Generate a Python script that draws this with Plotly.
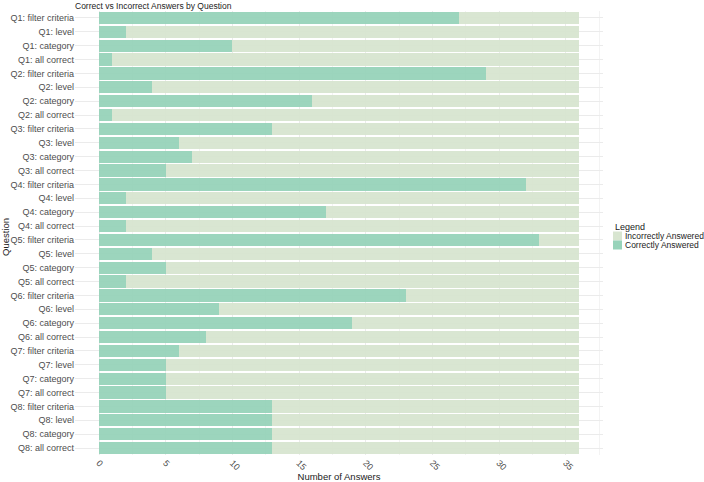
import plotly.graph_objects as go

questions = ["Q1", "Q2", "Q3", "Q4", "Q5", "Q6", "Q7", "Q8"]
aspects = ["filter criteria", "level", "category", "all correct"]
categories = [f"{q}: {a}" for q in questions for a in aspects]

correct = [27, 2, 10, 1,
           29, 4, 16, 1,
           13, 6, 7, 5,
           32, 2, 17, 2,
           33, 4, 5, 2,
           23, 9, 19, 8,
           6, 5, 5, 5,
           13, 13, 13, 13]
total_answers = 36
incorrect = [total_answers - c for c in correct]

x_ticks = [0, 5, 10, 15, 20, 25, 30, 35]
series_names = ["Incorrectly Answered", "Correctly Answered"]
series_colors = {"Correctly Answered": "#97d3ba", "Incorrectly Answered": "#d8e5d0"}

font_family = "Liberation Sans, Arial, sans-serif"
txt = "#4d4d4d"
dark = "#222222"

W, H = 704, 482
ml, mr, mt, mb = 75, 101, 11, 27

fig = go.Figure()
fig.add_trace(go.Bar(y=categories, x=correct, orientation="h", name="Correctly Answered",
                     marker=dict(color=series_colors["Correctly Answered"], line=dict(width=0)),
                     opacity=0.95))
fig.add_trace(go.Bar(y=categories, x=incorrect, orientation="h", name="Incorrectly Answered",
                     marker=dict(color=series_colors["Incorrectly Answered"], line=dict(width=0)),
                     opacity=0.95))

pw = W - ml - mr
ph = H - mt - mb
def px_x(p):
    return (p - ml) / pw
def px_y(p):
    return (H - mb - p) / ph

annotations = [dict(text="Legend", x=px_x(613), y=px_y(227), xref="paper", yref="paper",
                    xanchor="left", yanchor="middle", showarrow=False,
                    font=dict(size=9, color=dark)),
               dict(text="Question", x=px_x(5), y=px_y(237), xref="paper", yref="paper",
                    xanchor="center", yanchor="middle", showarrow=False, textangle=-90,
                    font=dict(size=9.5, color=dark))]
shapes = []
for i, name in enumerate(series_names):
    yc = 236 + i * 9
    shapes.append(dict(type="rect", xref="paper", yref="paper",
                       x0=px_x(613), x1=px_x(622), y0=px_y(yc - 4.5), y1=px_y(yc + 4.5),
                       fillcolor=series_colors[name], line=dict(width=0)))
    annotations.append(dict(text=name, x=px_x(623), y=px_y(yc), xref="paper", yref="paper",
                            xanchor="left", yanchor="middle", showarrow=False,
                            font=dict(size=8.5, color=dark)))

fig.update_layout(
    width=W, height=H,
    barmode="stack", bargap=0.12,
    plot_bgcolor="white", paper_bgcolor="white",
    margin=dict(l=ml, r=mr, t=mt, b=mb, autoexpand=False),
    font=dict(family=font_family, size=9, color=txt),
    title=dict(text="Correct vs Incorrect Answers by Question", x=ml / W, xanchor="left",
               y=1 - 6 / H, yanchor="middle", font=dict(size=8.5, color=dark)),
    showlegend=False,
    annotations=annotations,
    shapes=shapes,
)
fig.update_xaxes(range=[-1.8, 37.8], tickvals=x_ticks, tickangle=45, automargin=False,
                 title=dict(text="Number of Answers", font=dict(size=9.5, color=dark), standoff=0),
                 showgrid=True, gridcolor="#ebebeb", gridwidth=1,
                 minor=dict(dtick=2.5, showgrid=True, gridcolor="#f3f3f3"),
                 zeroline=False, showline=False, ticks="", ticklen=0,
                 tickfont=dict(size=9, color=txt))
fig.update_yaxes(categoryorder="array", categoryarray=categories, autorange="reversed",
                 automargin=False,
                 showgrid=True, gridcolor="#ebebeb", zeroline=False, showline=False,
                 ticks="", tickfont=dict(size=9, color=txt))

fig.write_html("out.html")
